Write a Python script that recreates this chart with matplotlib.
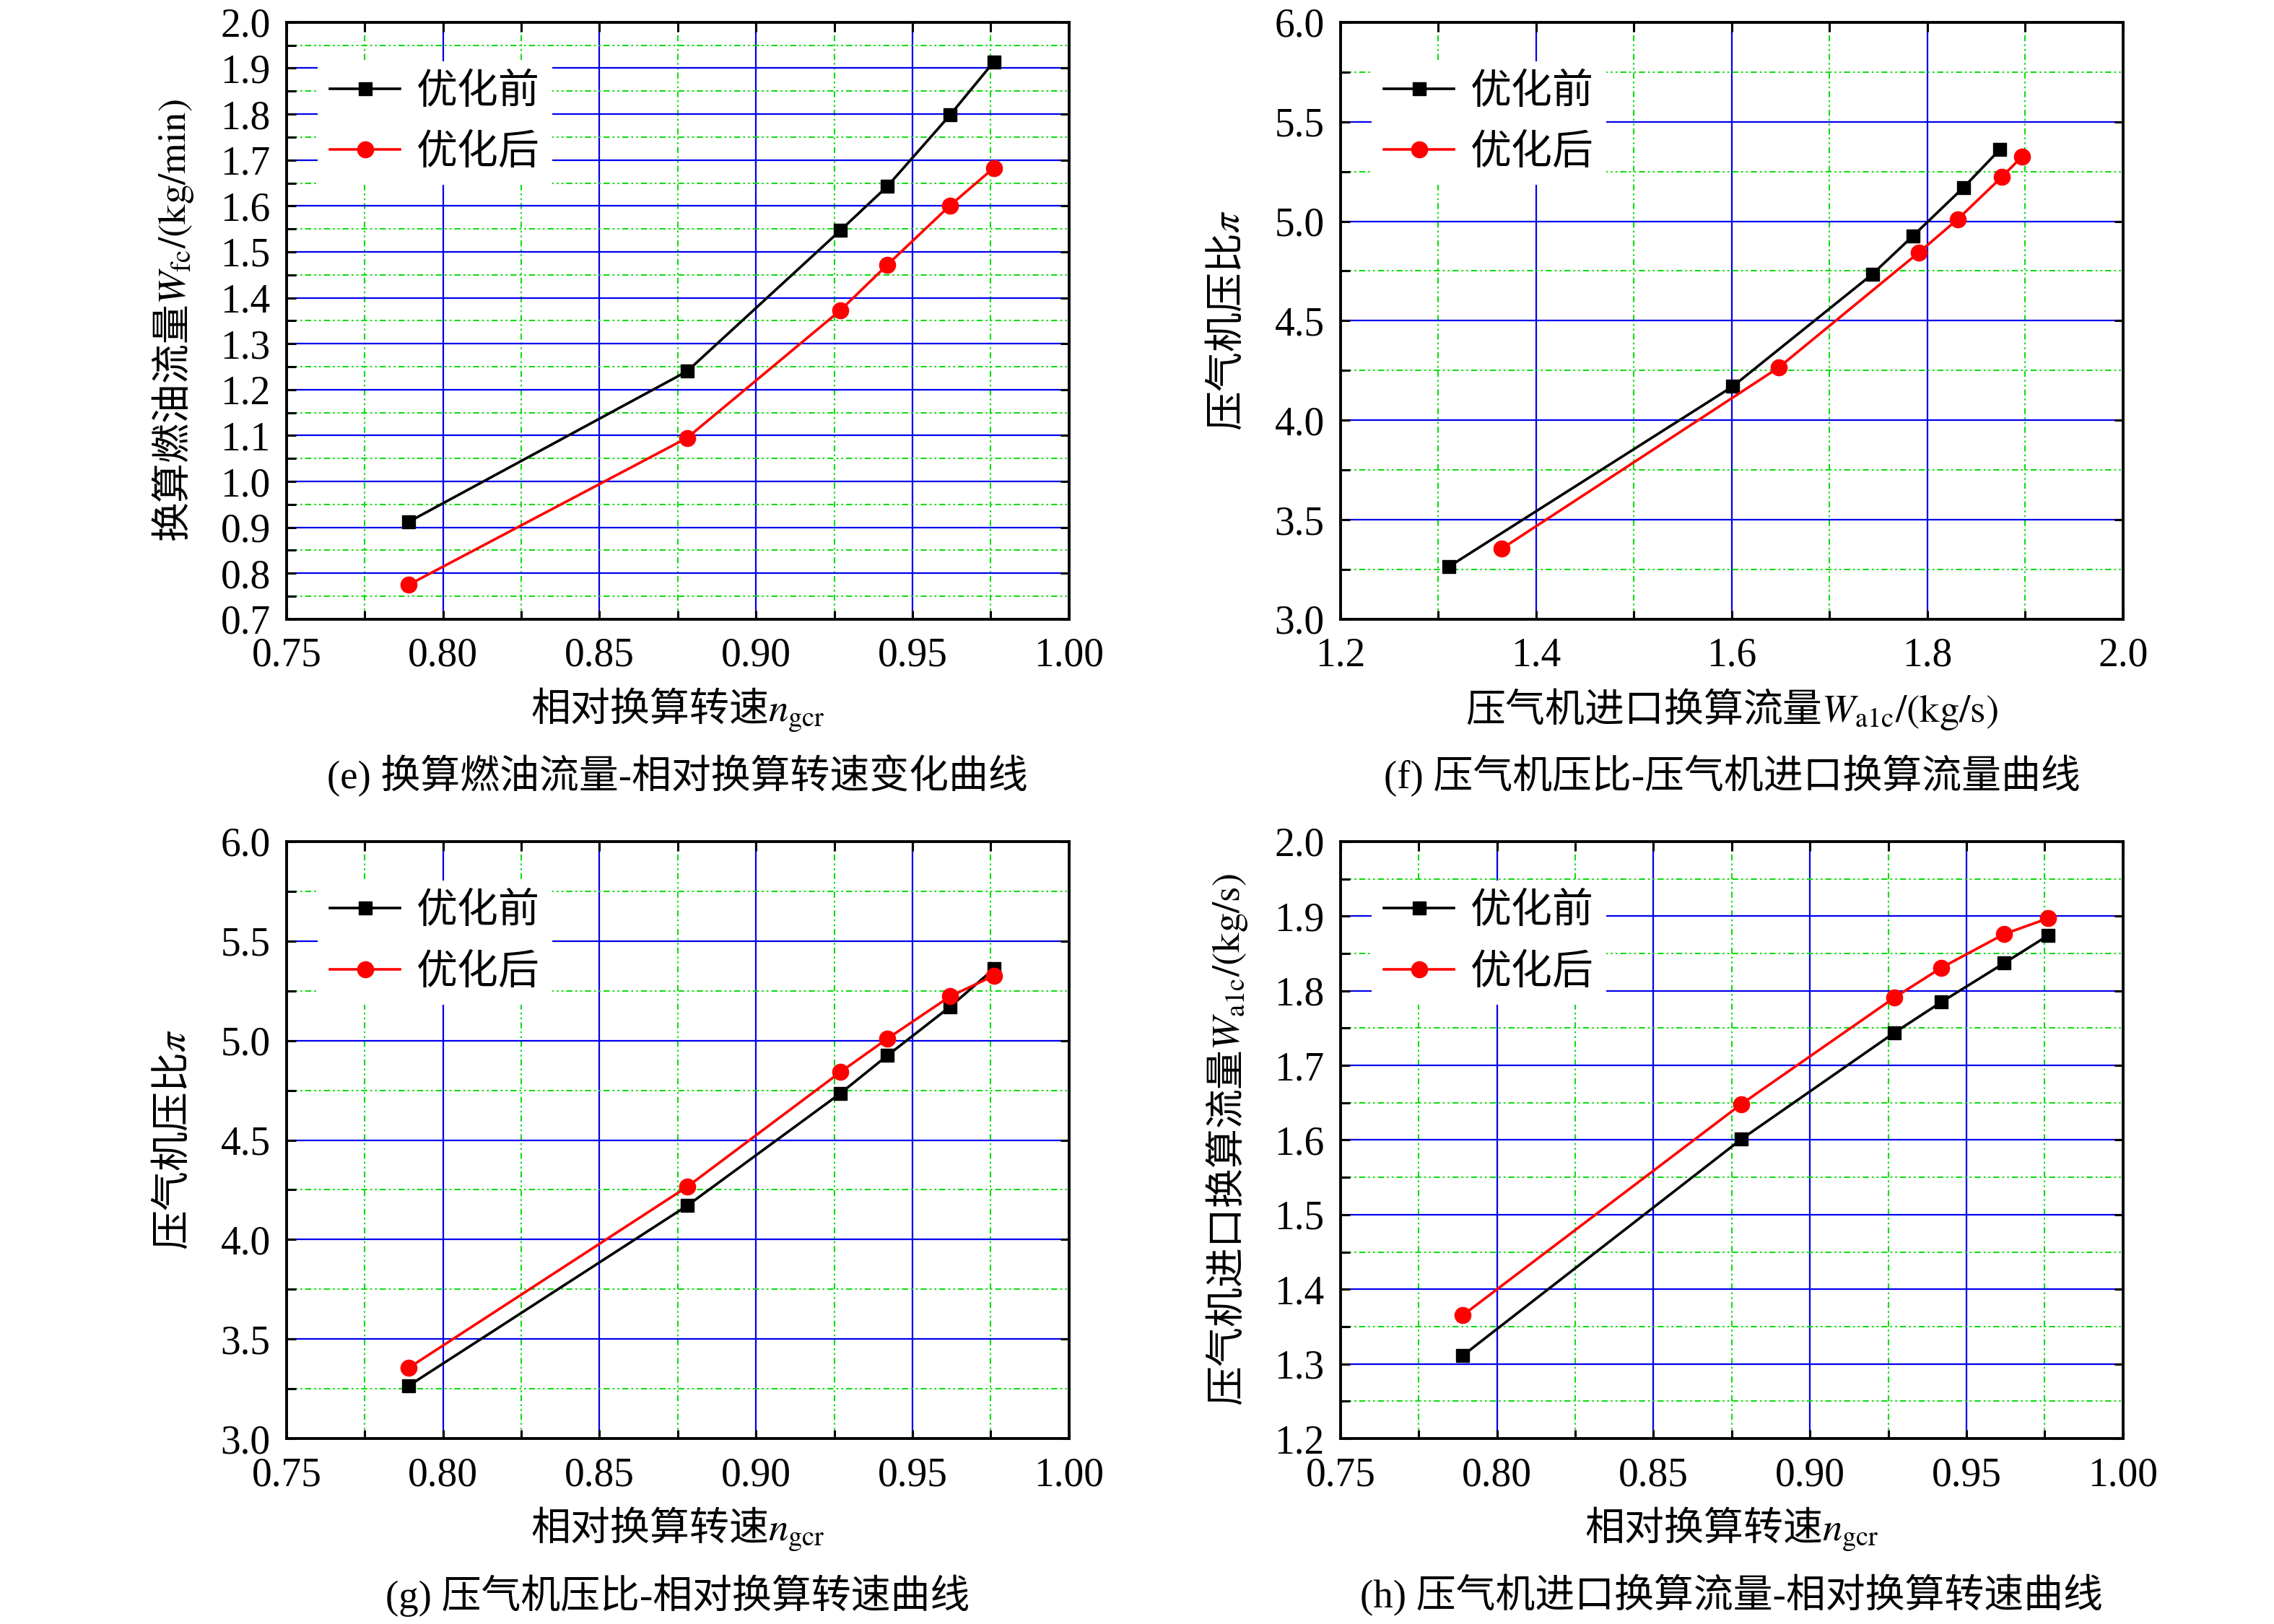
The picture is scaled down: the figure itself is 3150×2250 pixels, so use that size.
import numpy as np
import matplotlib
matplotlib.use("Agg")
import matplotlib.pyplot as plt
from matplotlib.ticker import MultipleLocator

plt.rcParams['font.family'] = ['Liberation Serif', 'Noto Sans CJK SC']
plt.rcParams['mathtext.fontset'] = 'stix'
plt.rcParams['axes.unicode_minus'] = False

# data
n_gcr = [0.789, 0.878, 0.927, 0.942, 0.962, 0.976]
wfc_before = [0.912, 1.240, 1.547, 1.643, 1.798, 1.914]
wfc_after = [0.775, 1.095, 1.373, 1.472, 1.601, 1.683]
wa1c_before = [1.311, 1.601, 1.744, 1.785, 1.837, 1.874]
wa1c_after = [1.365, 1.648, 1.791, 1.831, 1.876, 1.897]
pi_before = [3.265, 4.170, 4.735, 4.925, 5.170, 5.360]
pi_after = [3.355, 4.265, 4.842, 5.010, 5.222, 5.326]
legend_labels = ['优化前', '优化后']

CJK = 'Noto Sans CJK SC'
lab_fs = 39.5
tick_fs = 40

fig = plt.figure(figsize=(31.5, 22.5), dpi=100)

W, H = 0.3441, 0.3676
boxes = {
    'e': [0.1260, 0.6187, W, H],
    'f': [0.5895, 0.6187, W, H],
    'g': [0.1260, 0.1142, W, H],
    'h': [0.5895, 0.1142, W, H],
}


def style_axes(ax, xlim, ylim, xmaj, xmin, ymaj, ymin, xfmt, yfmt):
    ax.set_xlim(*xlim)
    ax.set_ylim(*ylim)
    ax.xaxis.set_major_locator(MultipleLocator(xmaj))
    ax.xaxis.set_minor_locator(MultipleLocator(xmin))
    ax.yaxis.set_major_locator(MultipleLocator(ymaj))
    ax.yaxis.set_minor_locator(MultipleLocator(ymin))
    ax.xaxis.set_major_formatter(plt.FormatStrFormatter(xfmt))
    ax.yaxis.set_major_formatter(plt.FormatStrFormatter(yfmt))
    ax.set_axisbelow(True)
    ax.grid(which='major', color='#0000EE', lw=1.6, ls='-')
    ax.grid(which='minor', color='#11DD11', lw=1.5, ls=(0, (4, 2, 1.2, 2, 1.2, 2)))
    ax.tick_params(which='both', direction='in', top=True, right=True,
                   length=9, width=2.2, labelsize=tick_fs)
    ax.tick_params(axis='y', which='minor', right=False)
    ax.tick_params(axis='x', pad=18)
    ax.tick_params(axis='y', pad=16)
    for sp in ax.spines.values():
        sp.set_linewidth(2.8)


def draw(ax, x1, y1, x2, y2):
    ax.plot(x1, y1, color='black', lw=2.6, marker='s', ms=13.5, label=legend_labels[0])
    ax.plot(x2, y2, color='red', lw=2.6, marker='o', ms=16, label=legend_labels[1])
    leg = ax.legend(loc='upper left', bbox_to_anchor=(0.04, 0.935), borderaxespad=0,
                    fontsize=41, frameon=True, fancybox=False, framealpha=1,
                    edgecolor='none', facecolor='white', handlelength=1.7,
                    handletextpad=0.4, labelspacing=0.55, borderpad=0.3)
    leg.set_zorder(5)


def labels(ax, xlabel, ylabel, caption):
    ax.set_xlabel(xlabel, fontsize=lab_fs, fontfamily=CJK, va='center')
    ax.xaxis.set_label_coords(0.5, -0.151)
    ax.set_ylabel(ylabel, fontsize=lab_fs, fontfamily=CJK, va='center')
    ax.yaxis.set_label_coords(-0.145, 0.5)
    ax.text(0.5, -0.263, caption, transform=ax.transAxes, ha='center', va='center',
            fontsize=lab_fs)


n_label = '相对换算转速$n_{\\mathrm{gcr}}$'
pi_label = '压气机压比$\\pi$'
w_label = '压气机进口换算流量$W_{\\mathrm{a1c}}/(\\mathrm{kg/s})$'

# (e)
ax = fig.add_axes(boxes['e'])
draw(ax, n_gcr, wfc_before, n_gcr, wfc_after)
style_axes(ax, (0.75, 1.00), (0.7, 2.0), 0.05, 0.025, 0.1, 0.05, '%.2f', '%.1f')
labels(ax, n_label, '换算燃油流量$W_{\\mathrm{fc}}/(\\mathrm{kg/min})$',
       '(e) 换算燃油流量-相对换算转速变化曲线')

# (f)
ax = fig.add_axes(boxes['f'])
draw(ax, wa1c_before, pi_before, wa1c_after, pi_after)
style_axes(ax, (1.2, 2.0), (3.0, 6.0), 0.2, 0.1, 0.5, 0.25, '%.1f', '%.1f')
labels(ax, w_label, pi_label, '(f) 压气机压比-压气机进口换算流量曲线')

# (g)
ax = fig.add_axes(boxes['g'])
draw(ax, n_gcr, pi_before, n_gcr, pi_after)
style_axes(ax, (0.75, 1.00), (3.0, 6.0), 0.05, 0.025, 0.5, 0.25, '%.2f', '%.1f')
labels(ax, n_label, pi_label, '(g) 压气机压比-相对换算转速曲线')

# (h)
ax = fig.add_axes(boxes['h'])
draw(ax, n_gcr, wa1c_before, n_gcr, wa1c_after)
style_axes(ax, (0.75, 1.00), (1.2, 2.0), 0.05, 0.025, 0.1, 0.05, '%.2f', '%.1f')
labels(ax, n_label, w_label, '(h) 压气机进口换算流量-相对换算转速曲线')

fig.savefig('out.png', dpi=100)
